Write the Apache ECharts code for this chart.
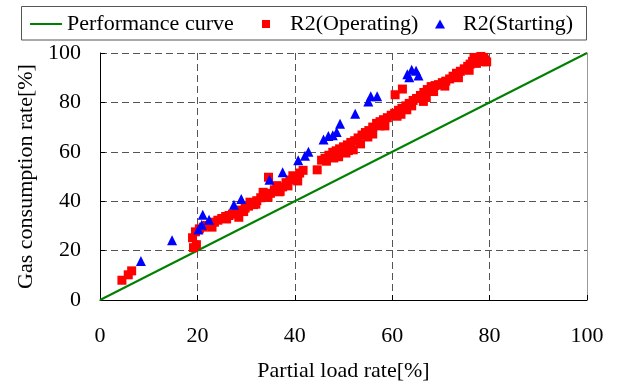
<!DOCTYPE html>
<html>
<head>
<meta charset="utf-8">
<script src="https://cdn.jsdelivr.net/npm/echarts@6/dist/echarts.min.js"></script>
<style>
  html, body { margin: 0; padding: 0; background: #fff; }
  #chart { width: 621px; height: 387px; }
</style>
</head>
<body>
<div id="chart"></div>
<script>
// axis ticks
const xTicks = [0, 20, 40, 60, 80, 100];
const yTicks = [0, 20, 40, 60, 80, 100];

// performance curve (load rate vs gas rate)
const perfCurve = [[0, 0], [100, 100]];

// R2 operating points [load %, gas %]
const operating = [
  [4.5, 8], [5.8, 10.2], [6.5, 11.8],
  [19.2, 21.2], [19.8, 22.4], [19, 25.2], [19.6, 27.6], [20.4, 28.8], [21.2, 29.5],
  [22, 30.2], [22.8, 30.8], [23.5, 31.5], [24.2, 32.3], [25, 33], [25.8, 33.8],
  [26.5, 34.2], [27.2, 34.8], [28, 35.5], [28.5, 33.5], [29, 36.4], [29.8, 37.2],
  [30.5, 38], [30.8, 39.6], [31.5, 38.6], [32.2, 40.2], [33, 41.4], [33.5, 43.6],
  [34, 42], [34.6, 49.7], [35, 43.2], [35.8, 44.6], [36.3, 46.3], [37, 44],
  [37.5, 45.8], [38.2, 47.5], [39, 48.6], [39.6, 50.3], [40.2, 49], [41, 51.4],
  [41.7, 52.5], [44.6, 52.7], [45.5, 56.6], [46.2, 57.4], [47, 58.6], [47.8, 59.8],
  [48.5, 60.4], [49, 58], [49.2, 61.2], [50, 62], [50.5, 59.5], [50.8, 62.8],
  [51.5, 63.8], [52, 60.8], [52.3, 64.5], [53, 65.6], [53.8, 66.8], [54.5, 67.8],
  [55, 66], [55.2, 68.6], [56, 70], [56.8, 71.5], [57.5, 72.2], [57.5, 70.5],
  [58.2, 73], [59, 73.8], [59.8, 74.8], [60.5, 75.6], [61, 74.4], [61.3, 76.8],
  [62, 77.6], [62.8, 78.6], [63, 77], [63.5, 79.6], [64.3, 80.8], [65, 81.6],
  [65.8, 82.8], [66.4, 80.4], [66.5, 84], [67, 82], [67.2, 85.2], [68, 86.4],
  [68.8, 86.8], [69.5, 87.2], [70.3, 88], [71, 88.6], [71.8, 89.5], [72.5, 90.6],
  [73.2, 91.8], [74, 92.6], [74.8, 93.6], [75.5, 94.6], [76, 95.5], [76.5, 96.6],
  [77, 97.2], [77.5, 96.8], [78, 97.6], [78.5, 96.5], [79, 97.2], [76.8, 98.2],
  [78.2, 98.6], [77.3, 95.8], [60.6, 83.1], [62.1, 85.4],
  [23, 29.5], [26, 32.8], [29.5, 35.8], [32, 38.8], [34.5, 41.6], [36.8, 43.8],
  [38.6, 46.2], [40.6, 48.2], [46.5, 56.2], [48, 57.5], [51, 60.5], [53.5, 63.2],
  [56, 67.2], [58.5, 70.5], [61.8, 75.2], [64, 78.6], [68.5, 84.4], [70.8, 86.6],
  [73.6, 90], [75.8, 93], [78.8, 98.2], [79.4, 96.4]
];

// R2 starting points [load %, gas %]
const starting = [
  [8.4, 15.8], [14.8, 24.2], [20.2, 28.5], [20.9, 30.5], [21.1, 34.5], [22.4, 32.5],
  [27.5, 38.6], [29, 40.9], [34.8, 48.7], [37.5, 51.7], [40.7, 56.6], [42.1, 58.4],
  [42.8, 60], [45.9, 65], [46.9, 66.4], [47.8, 66.7], [48.6, 68], [49.3, 71.4],
  [52.4, 75.4], [55.1, 80.4], [55.6, 82.5], [56.9, 82.5], [63.1, 91.4], [64, 93.2],
  [64.9, 92.8], [65.4, 90.9], [63.5, 90.2]
];

const font = 'Liberation Serif';
const legendText = { fontFamily: font, fontSize: 22, color: '#000' };
const chart = echarts.init(document.getElementById('chart'));

chart.setOption({
  animation: false,
  textStyle: { fontFamily: font, color: '#000' },
  // one legend per entry so the icon spacing can follow the original
  legend: [
    {
      left: 30, top: 13, padding: 0,
      itemWidth: 32, itemHeight: 2,
      textStyle: legendText,
      data: [{ name: 'Performance curve', icon: 'rect' }]
    },
    {
      left: 262, top: 13, padding: 0,
      itemWidth: 38, itemHeight: 8,
      symbolKeepAspect: true,
      textStyle: legendText,
      data: [{ name: 'R2(Operating)', icon: 'path://M0,0L10,0L10,10L0,10Z' }]
    },
    {
      left: 435, top: 13, padding: 0,
      itemWidth: 36, itemHeight: 9,
      symbolKeepAspect: true,
      textStyle: legendText,
      data: [{ name: 'R2(Starting)', icon: 'path://M5,0L10,9L0,9Z' }]
    }
  ],
  graphic: [{
    type: 'rect',
    shape: { x: 21.5, y: 6.5, width: 565, height: 33.5 },
    style: { fill: 'none', stroke: '#555', lineWidth: 1 },
    silent: true
  }],
  grid: { left: 100, right: 34, top: 53, bottom: 85 },
  xAxis: {
    type: 'value',
    min: xTicks[0],
    max: xTicks[xTicks.length - 1],
    interval: 20,
    name: 'Partial load rate[%]',
    nameLocation: 'middle',
    nameGap: 60,
    nameTextStyle: { fontFamily: font, fontSize: 22, color: '#000' },
    axisLine: { lineStyle: { color: '#000', width: 1 } },
    axisTick: { inside: true, length: 5, lineStyle: { color: '#000' } },
    axisLabel: { margin: 25, fontSize: 22, color: '#000', fontFamily: font },
    splitLine: { lineStyle: { color: '#555', type: [7, 4], width: 1 } }
  },
  yAxis: [{
    type: 'value',
    min: yTicks[0],
    max: yTicks[yTicks.length - 1],
    interval: 20,
    name: 'Gas consumption rate[%]',
    nameLocation: 'middle',
    nameGap: 63,
    nameTextStyle: { fontFamily: font, fontSize: 22, color: '#000' },
    axisLine: { show: true, lineStyle: { color: '#000', width: 1 } },
    axisTick: { show: true, inside: true, length: 5, lineStyle: { color: '#000' } },
    axisLabel: { margin: 19, fontSize: 22, color: '#000', fontFamily: font },
    splitLine: { lineStyle: { color: '#555', type: [7, 4], width: 1 } }
  }, {
    type: 'value',
    position: 'right',
    min: 0,
    max: 100,
    interval: 20,
    axisLine: { show: true, lineStyle: { color: '#999', width: 1 } },
    axisTick: { show: false },
    axisLabel: { show: false },
    splitLine: { show: false }
  }],
  series: [
    {
      name: 'Performance curve',
      type: 'line',
      data: perfCurve,
      symbol: 'none',
      lineStyle: { color: '#008000', width: 2 },
      itemStyle: { color: '#008000' },
      z: 2
    },
    {
      name: 'R2(Operating)',
      type: 'scatter',
      data: operating,
      symbol: 'rect',
      symbolSize: 9,
      itemStyle: { color: '#ff0000', opacity: 1 },
      z: 3
    },
    {
      name: 'R2(Starting)',
      type: 'scatter',
      data: starting,
      symbol: 'triangle',
      symbolSize: 10,
      itemStyle: { color: '#0000ff', opacity: 1 },
      z: 4
    }
  ]
});
</script>
</body>
</html>
